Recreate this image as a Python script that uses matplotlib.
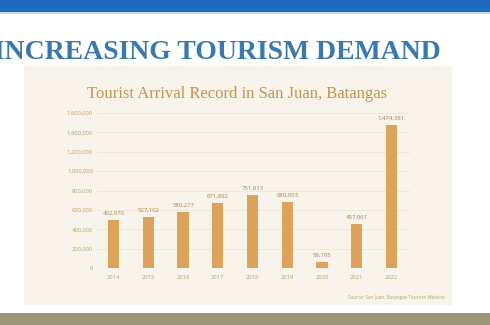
import matplotlib.pyplot as plt
from matplotlib.patches import Rectangle

# tourist arrivals per year, San Juan, Batangas
years = ["2014", "2015", "2016", "2017", "2018", "2019", "2020", "2021", "2022"]
arrivals = [492970, 527102, 580277, 671892, 751813, 680953, 59795, 457061, 1474381]
yticks = [0, 200000, 400000, 600000, 800000, 1000000, 1200000, 1400000, 1600000]

W, H = 490, 325
fig = plt.figure(figsize=(W / 100, H / 100), dpi=100)
fig.patch.set_facecolor("white")


def px(x0, y0, x1, y1):
    # pixel box (top-left origin) -> figure fraction rect
    return [x0 / W, 1 - y1 / H, (x1 - x0) / W, (y1 - y0) / H]


# slide decoration
bands = [
    (0, 0, W, 12, "#1b6cbd"),
    (0, 12, W, 14, "#c9d9e6"),
    (24, 66, 452, 305, "#f8f4ec"),
    (0, 313, W, H, "#9a9677"),
]
for x0, y0, x1, y1, c in bands:
    r = px(x0, y0, x1, y1)
    fig.patches.append(Rectangle((r[0], r[1]), r[2], r[3], transform=fig.transFigure,
                                 facecolor=c, edgecolor="none", zorder=-5))

fig.text(-0.012, 1 - 59 / H, "INCREASING TOURISM DEMAND", fontsize=20,
         family="Liberation Serif", weight="bold", color="#3a79ae", va="baseline")

fig.text(237 / W, 1 - 98 / H, "Tourist Arrival Record in San Juan, Batangas",
         fontsize=12, family="Liberation Serif", color="#c2954f", ha="center", va="baseline")

fig.text(445 / W, 1 - 298 / H, "Source: San Juan, Batangas Tourism Website",
         fontsize=3.3, family="Open Sans", color="#c29c62", ha="right", va="center")

ax = fig.add_axes(px(97, 113, 410, 268))
ax.set_facecolor("none")
x = list(range(len(years)))
bars = ax.bar(x, arrivals, width=0.32, color="#dba35c", zorder=3)
for xi, v in zip(x, arrivals):
    ax.annotate(f"{v:,}", (xi, v), xytext=(0, 3), textcoords="offset points",
                ha="center", va="bottom", fontsize=4.3, family="Open Sans", color="#ad8044")

ax.set_xlim(-0.475, 8.53)
ax.set_ylim(0, 1600000)
ax.set_xticks(x)
ax.set_xticklabels(years)
ax.set_yticks(yticks)
ax.set_yticklabels([f"{t:,}" for t in yticks])
ax.tick_params(length=0, labelsize=4.2, labelcolor="#c29c62", pad=3)
ax.tick_params(axis="x", pad=5)
for lab in ax.get_xticklabels() + ax.get_yticklabels():
    lab.set_family("Open Sans")
ax.grid(axis="y", color="#ebe4d6", linewidth=0.6, zorder=0)
for s in ax.spines.values():
    s.set_visible(False)

fig.savefig("out.png", dpi=100)
